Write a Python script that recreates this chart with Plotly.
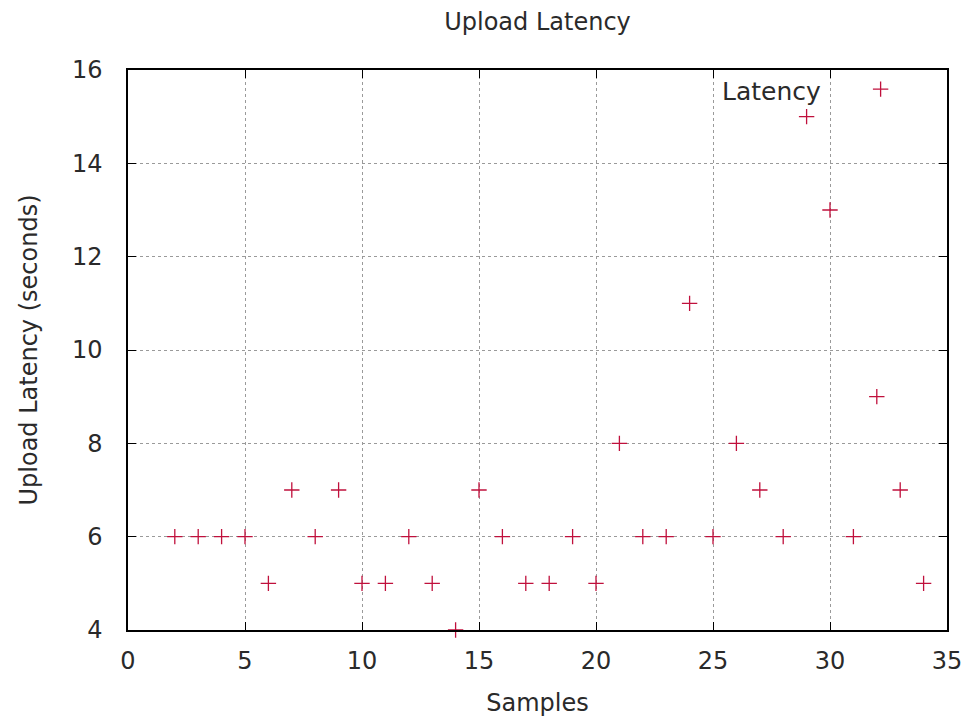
import plotly.graph_objects as go

samples = list(range(2, 35))
latency = [6, 6, 6, 6, 5, 7, 6, 7, 5, 5, 6, 5, 4, 7, 6, 5, 5, 6, 5, 8, 6, 6, 11,
           6, 8, 7, 6, 15, 13, 6, 9, 7, 5]

x_ticks = [0, 5, 10, 15, 20, 25, 30, 35]
y_ticks = [4, 6, 8, 10, 12, 14, 16]

FONT = "DejaVu Sans"
TXT = "#2a2a2a"
red = "#c0103c"

fig = go.Figure()
fig.add_trace(go.Scatter(
    x=samples, y=latency, mode="markers", name="\u00a0",
    marker=dict(symbol="cross-thin", size=11, line=dict(color=red, width=1.3), color=red),
    cliponaxis=False,
))

axis_common = dict(
    showline=True, linecolor="black", linewidth=1.5, mirror="allticks",
    ticks="inside", ticklen=8, tickcolor="black", tickwidth=1.2,
    showgrid=True, gridcolor="#9a9a9a", gridwidth=1, griddash="3px,3px",
    zeroline=False, tickfont=dict(family=FONT, size=24, color=TXT),
)

# page body has 8px default margin -> compensate
fig.update_layout(
    width=962, height=712,
    margin=dict(l=120, r=23, t=62, b=90, autoexpand=False),
    plot_bgcolor="white", paper_bgcolor="white",
    title=dict(text="Upload Latency", x=0.5, xref="paper", xanchor="center",
               y=1 - 14 / 712, yref="container", yanchor="middle",
               font=dict(family=FONT, size=24, color=TXT)),
    xaxis=dict(range=[0, 35], tickvals=x_ticks,
               title=dict(text="Samples", font=dict(family=FONT, size=24, color=TXT), standoff=21),
               ticklabelstandoff=8, **axis_common),
    yaxis=dict(range=[4, 16], tickvals=y_ticks,
               title=dict(text="Upload Latency (seconds)", font=dict(family=FONT, size=24, color=TXT), standoff=28),
               ticklabelstandoff=19, **axis_common),
    showlegend=True,
    legend=dict(x=(720 - 128) / 819, xanchor="left", y=1.0 + 3 / 560, yanchor="top",
                bgcolor="rgba(0,0,0,0)", borderwidth=0,
                title=dict(text="Latency" + "\u00a0" * 4, side="left",
                           font=dict(family=FONT, size=25, color=TXT)),
                font=dict(family=FONT, size=24)),
)

fig.write_html("out.html")
